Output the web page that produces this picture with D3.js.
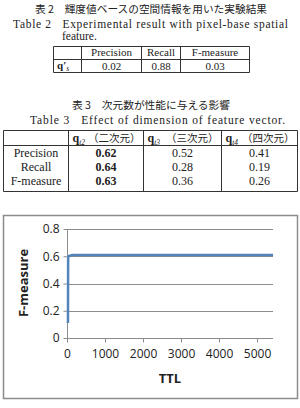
<!DOCTYPE html>
<html>
<head>
<meta charset="utf-8">
<script src="https://cdn.jsdelivr.net/npm/d3@7"></script>
<style>
  body { margin: 0; background: #fff; }
  svg { display: block; }
</style>
</head>
<body>
<svg id="page" width="300" height="408"></svg>
<script>
// table 2
var t2Cols = ["Precision", "Recall", "F-measure"];
var t2Values = ["0.02", "0.88", "0.03"];

// table 3
var t3Rows = ["Precision", "Recall", "F-measure"];
var t3Subs = ["t2", "t3", "t4"];
var t3Dims = ["（二次元）", "（三次元）", "（四次元）"];
var t3Values = [
  ["0.62", "0.52", "0.41"],
  ["0.64", "0.28", "0.19"],
  ["0.63", "0.36", "0.26"]
];

// chart: F-measure vs TTL
var ttl      = [25,   30,   45,   80,   150,  400,  1000, 2000, 3000, 4000, 5000, 5420];
var fMeasure = [0.11, 0.58, 0.60, 0.605, 0.61, 0.61, 0.61, 0.61, 0.61, 0.61, 0.61, 0.61];
var yTicks = [0, 0.2, 0.4, 0.6, 0.8];
var xTicks = [0, 1000, 2000, 3000, 4000, 5000];

var svg = d3.select("#page");
var serif = "'Liberation Serif', 'DejaVu Serif', serif";
var cjk = "'Noto Sans CJK JP', sans-serif";
var ink = "#222";

svg.append("rect").attr("width", 300).attr("height", 408).attr("fill", "#fff");

// ---- captions ----
svg.append("text").attr("x", 151).attr("y", 13)
  .attr("text-anchor", "middle").attr("font-family", cjk).attr("font-size", 10.5)
  .attr("fill", ink).attr("textLength", 232).attr("lengthAdjust", "spacingAndGlyphs")
  .text("表 2　輝度値ベースの空間情報を用いた実験結果");
svg.append("text").attr("x", 13).attr("y", 28)
  .attr("font-family", serif).attr("font-size", 11.5).attr("fill", ink)
  .attr("textLength", 275).attr("lengthAdjust", "spacing")
  .text("Table 2\u00a0\u00a0\u00a0Experimental result with pixel-base spatial");
svg.append("text").attr("x", 62).attr("y", 40)
  .attr("font-family", serif).attr("font-size", 11.5).attr("fill", ink)
  .text("feature.");

svg.append("text").attr("x", 151).attr("y", 109)
  .attr("text-anchor", "middle").attr("font-family", cjk).attr("font-size", 10.5)
  .attr("fill", ink).attr("textLength", 158).attr("lengthAdjust", "spacingAndGlyphs")
  .text("表 3　次元数が性能に与える影響");
svg.append("text").attr("x", 30).attr("y", 124)
  .attr("font-family", serif).attr("font-size", 11.5).attr("fill", ink)
  .attr("textLength", 255).attr("lengthAdjust", "spacing")
  .text("Table 3\u00a0\u00a0\u00a0Effect of dimension of feature vector.");

// ---- table helper ----
var drawGrid = function(colX, rowY) {
  var g = svg.append("g").attr("stroke", "#333").attr("stroke-width", 1);
  var x0 = colX[0], x1 = colX[colX.length - 1];
  var y0 = rowY[0], y1 = rowY[rowY.length - 1];
  colX.forEach(function(x) {
    g.append("line").attr("x1", x).attr("x2", x).attr("y1", y0).attr("y2", y1);
  });
  [y0, rowY[1], y1].forEach(function(y) {
    g.append("line").attr("x1", x0).attr("x2", x1).attr("y1", y).attr("y2", y);
  });
};

var boldQ = function(parent, x, y, sub, prime, size) {
  var t = parent.append("text").attr("x", x).attr("y", y)
    .attr("font-family", serif).attr("font-size", size).attr("fill", ink);
  t.append("tspan").attr("font-weight", "bold").text("q");
  if (prime) t.append("tspan").attr("font-weight", "bold").text("′");
  t.append("tspan").attr("font-size", 7.5).attr("dy", 2.5).attr("font-style", "italic").text(sub);
  return t;
};

// table 2
var t2X = [53.5, 81.5, 141.5, 180.5, 249.5];
var t2Y = [46.5, 59.5, 72.5];
drawGrid(t2X, t2Y);
boldQ(svg, 57, 68.5, "s", true, 11);
t2Cols.forEach(function(c, i) {
  var cx = (t2X[i + 1] + t2X[i + 2]) / 2;
  svg.append("text").attr("x", cx).attr("y", 56).attr("text-anchor", "middle")
    .attr("font-family", serif).attr("font-size", 11).attr("fill", ink).text(c);
  svg.append("text").attr("x", cx).attr("y", 69.5).attr("text-anchor", "middle")
    .attr("font-family", serif).attr("font-size", 11).attr("fill", ink).text(t2Values[i]);
});

// table 3
var t3X = [3.5, 68.5, 143.5, 221.5, 297.5];
var t3Y = [130.5, 145.5, 191.5];
drawGrid(t3X, t3Y);
t3Subs.forEach(function(s, i) {
  var x = t3X[i + 1] + 4;
  boldQ(svg, x, 142, s, false, 12);
  svg.append("text").attr("x", t3X[i + 2] - 3).attr("y", 141.5).attr("text-anchor", "end")
    .attr("font-family", cjk).attr("font-size", 10.5).attr("fill", ink).text(t3Dims[i]);
});
t3Rows.forEach(function(r, j) {
  var y = 157 + j * 14;
  svg.append("text").attr("x", (t3X[0] + t3X[1]) / 2).attr("y", y).attr("text-anchor", "middle")
    .attr("font-family", serif).attr("font-size", 12).attr("fill", ink).text(r);
  t3Values[j].forEach(function(v, i) {
    svg.append("text").attr("x", (t3X[i + 1] + t3X[i + 2]) / 2).attr("y", y)
      .attr("text-anchor", "middle").attr("font-family", serif).attr("font-size", 12)
      .attr("font-weight", i === 0 ? "bold" : "normal").attr("fill", ink).text(v);
  });
});

// ---- chart ----
var sans = "'Open Sans', 'Liberation Sans', sans-serif";
svg.append("rect").attr("x", 3.5).attr("y", 215.5).attr("width", 294).attr("height", 183)
  .attr("fill", "#fff").attr("stroke", "#8c8c8c").attr("stroke-width", 1.5);

var x = d3.scaleLinear().domain([0, 5420]).range([67, 273]);
var y = d3.scaleLinear().domain([0, 0.8]).range([338, 229]);

var plot = svg.append("g");

// gridlines
plot.selectAll("line.grid").data(yTicks.slice(1)).enter().append("line")
  .attr("class", "grid")
  .attr("x1", x(0)).attr("x2", x(5420))
  .attr("y1", function(d) { return Math.round(y(d)) + 0.5; })
  .attr("y2", function(d) { return Math.round(y(d)) + 0.5; })
  .attr("stroke", "#8c8c8c").attr("stroke-width", 1);

var yAxis = d3.axisLeft(y).tickValues(yTicks).tickSize(4).tickPadding(4)
  .tickFormat(function(d) { return d === 0 ? "0" : d3.format(".1f")(d); });
var xAxis = d3.axisBottom(x).tickValues(xTicks).tickSize(4).tickPadding(7)
  .tickFormat(d3.format("d"));

var gy = plot.append("g").attr("transform", "translate(" + (Math.round(x(0)) + 0.5) + ",0)").call(yAxis);
var gx = plot.append("g").attr("transform", "translate(0," + (Math.round(y(0)) + 0.5) + ")").call(xAxis);
[gx, gy].forEach(function(g) {
  g.select(".domain").remove();
  g.selectAll(".tick line").attr("stroke", "#8c8c8c");
  g.selectAll("text").attr("font-family", sans).attr("font-size", 12).attr("fill", ink);
});
gy.append("line").attr("y1", y(0)).attr("y2", y(0.8)).attr("stroke", "#8c8c8c");
gx.append("line").attr("x1", x(0)).attr("x2", x(5420)).attr("stroke", "#8c8c8c");

// line
var line = d3.line()
  .x(function(d, i) { return x(ttl[i]); })
  .y(function(d) { return y(d); })
  .curve(d3.curveMonotoneX);
plot.append("path").datum(fMeasure)
  .attr("d", line).attr("fill", "none")
  .attr("stroke", "#5383bd").attr("stroke-width", 2.5)
  .attr("stroke-linejoin", "round");

// axis titles
svg.append("text").attr("x", 170).attr("y", 383).attr("text-anchor", "middle")
  .attr("font-family", sans).attr("font-weight", "bold").attr("font-size", 13)
  .attr("fill", ink).text("TTL");
svg.append("text").attr("transform", "translate(28,283) rotate(-90)")
  .attr("text-anchor", "middle").attr("font-family", sans).attr("font-weight", "bold")
  .attr("font-size", 13).attr("fill", ink).text("F-measure");
</script>
</body>
</html>
